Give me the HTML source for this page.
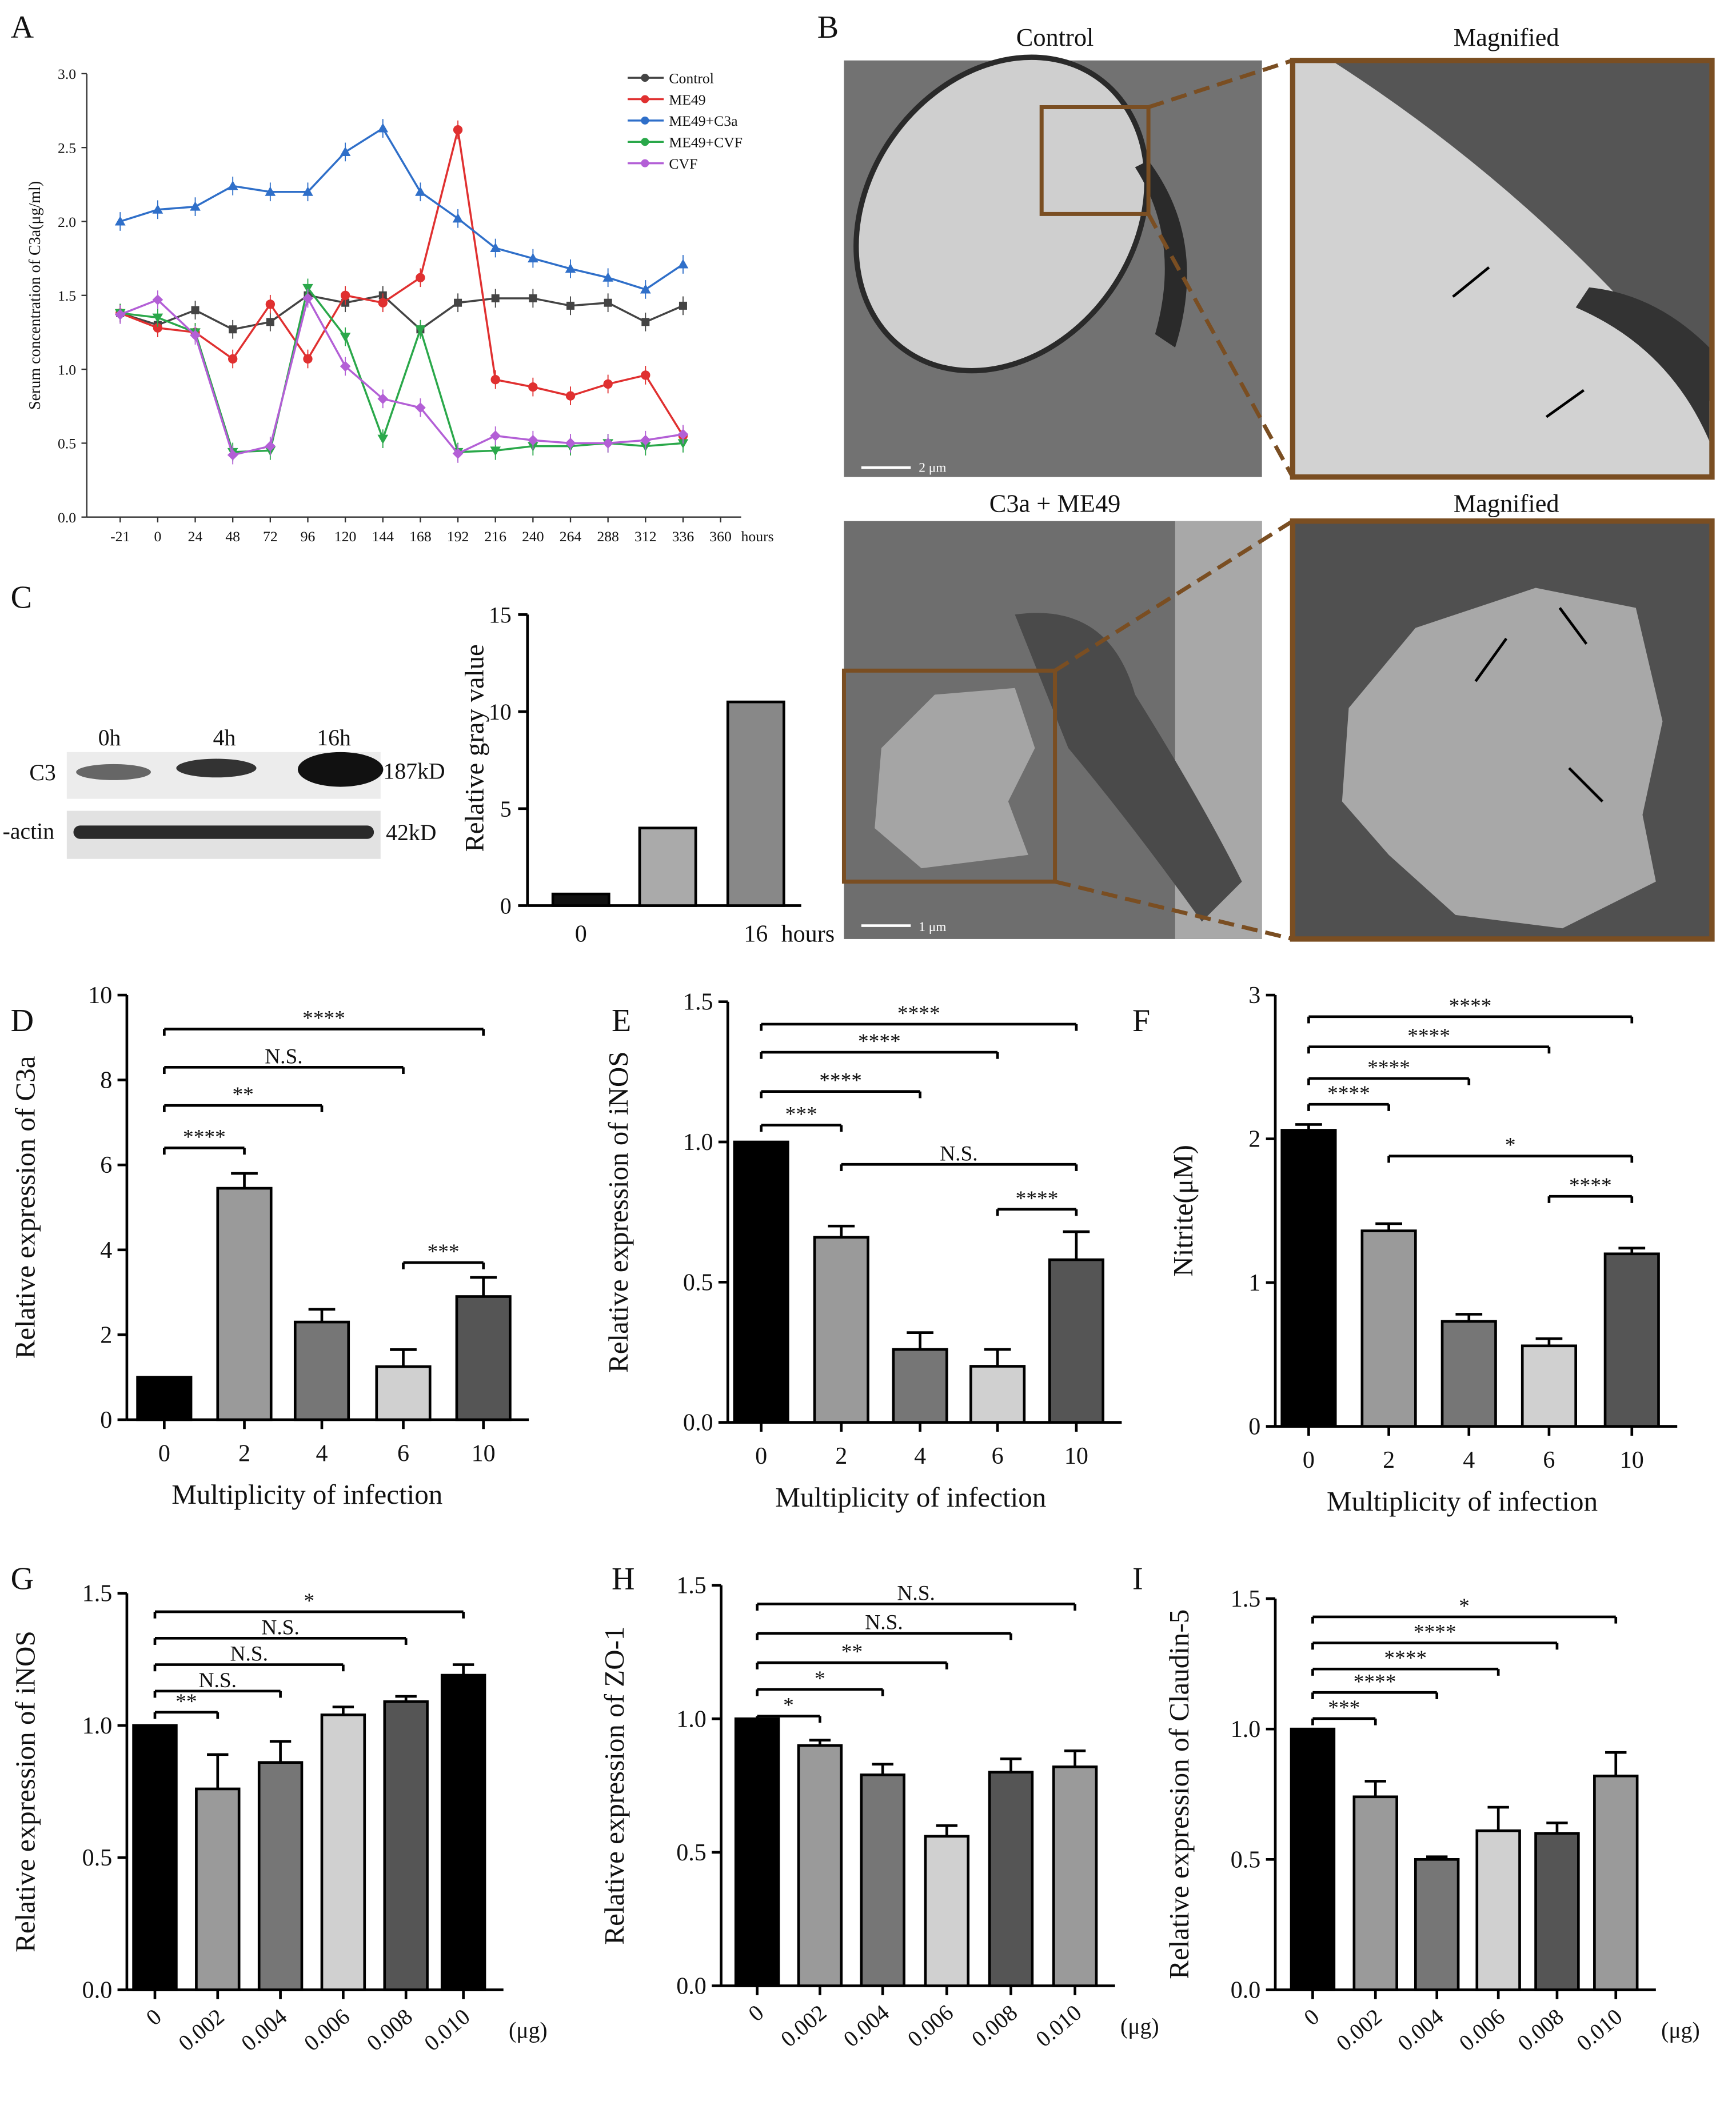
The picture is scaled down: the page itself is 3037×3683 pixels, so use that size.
<!DOCTYPE html>
<html><head><meta charset="utf-8">
<style>
html,body{margin:0;padding:0;background:#fff;}
svg{display:block;}
text{font-family:"Liberation Serif",serif;fill:#111;}
</style></head>
<body>
<svg id="fig" width="3037" height="3683" viewBox="0 0 1300 1576" xmlns="http://www.w3.org/2000/svg">
<rect width="1300" height="1576" fill="#fff"/>
<text x="8" y="28" font-size="24">A</text>
<text x="612" y="28" font-size="24">B</text>
<text x="8" y="455" font-size="24">C</text>
<text x="8" y="772" font-size="24">D</text>
<text x="458" y="772" font-size="24">E</text>
<text x="848" y="772" font-size="24">F</text>
<text x="8" y="1190" font-size="24">G</text>
<text x="458" y="1190" font-size="24">H</text>
<text x="848" y="1190" font-size="24">I</text>

<g>
<text x="790" y="34" font-size="19" text-anchor="middle">Control</text>
<text x="1128" y="34" font-size="19" text-anchor="middle">Magnified</text>
<text x="790" y="383" font-size="19" text-anchor="middle">C3a + ME49</text>
<text x="1128" y="383" font-size="19" text-anchor="middle">Magnified</text>
<rect x="632" y="45" width="313" height="312" fill="#727272"/>
<ellipse cx="750" cy="160" rx="100" ry="125" transform="rotate(35 750 160)" fill="#cfcfcf" stroke="#2a2a2a" stroke-width="4"/>
<path d="M860 120 Q905 180 880 260 L865 250 Q885 180 850 125 Z" fill="#2a2a2a"/>
<rect x="780" y="80" width="80" height="80" fill="none" stroke="#7a4e22" stroke-width="3"/>
<line x1="860" y1="80" x2="968" y2="45" stroke="#7a4e22" stroke-width="3" stroke-dasharray="12 6"/>
<line x1="860" y1="160" x2="968" y2="357" stroke="#7a4e22" stroke-width="3" stroke-dasharray="12 6"/>
<rect x="968" y="45" width="314" height="312" fill="#555" stroke="#7a4e22" stroke-width="4"/>
<path d="M970 47 L1000 47 Q1160 150 1280 300 L1280 355 L970 355 Z" fill="#d2d2d2"/>
<path d="M1180 230 Q1250 260 1280 330 L1280 260 Q1240 220 1190 215 Z" fill="#333"/>
<line x1="1088" y1="222" x2="1115" y2="200" stroke="#000" stroke-width="2"/>
<line x1="1158" y1="312" x2="1186" y2="292" stroke="#000" stroke-width="2"/>
<line x1="645" y1="350" x2="682" y2="350" stroke="#fff" stroke-width="2"/>
<text x="688" y="353" font-size="10" style="fill:#fff">2 μm</text>
<rect x="632" y="390" width="313" height="313" fill="#6e6e6e"/>
<rect x="880" y="390" width="65" height="313" fill="#a8a8a8"/>
<path d="M760 460 Q830 450 850 520 Q900 600 930 660 L900 690 Q850 620 800 560 Z" fill="#4a4a4a"/>
<path d="M660 560 L700 520 L760 515 L775 560 L755 600 L770 640 L690 650 L655 620 Z" fill="#a5a5a5"/>
<rect x="632" y="502" width="158" height="158" fill="none" stroke="#7a4e22" stroke-width="3"/>
<line x1="790" y1="502" x2="968" y2="390" stroke="#7a4e22" stroke-width="3" stroke-dasharray="12 6"/>
<line x1="790" y1="660" x2="968" y2="703" stroke="#7a4e22" stroke-width="3" stroke-dasharray="12 6"/>
<rect x="968" y="390" width="314" height="313" fill="#505050" stroke="#7a4e22" stroke-width="4"/>
<path d="M1010 530 L1060 470 L1150 440 L1225 455 L1245 540 L1230 610 L1240 660 L1170 695 L1090 685 L1040 640 L1005 600 Z" fill="#a8a8a8"/>
<line x1="1105" y1="510" x2="1128" y2="478" stroke="#000" stroke-width="2"/>
<line x1="1188" y1="482" x2="1168" y2="455" stroke="#000" stroke-width="2"/>
<line x1="1200" y1="600" x2="1175" y2="575" stroke="#000" stroke-width="2"/>
<line x1="645" y1="693" x2="682" y2="693" stroke="#fff" stroke-width="2"/>
<text x="688" y="697" font-size="10" style="fill:#fff">1 μm</text>
</g>

<g>
<text x="82" y="558" font-size="17" text-anchor="middle">0h</text>
<text x="168" y="558" font-size="17" text-anchor="middle">4h</text>
<text x="250" y="558" font-size="17" text-anchor="middle">16h</text>
<text x="22" y="584" font-size="17">C3</text>
<text x="2" y="628" font-size="17">-actin</text>
<rect x="50" y="563" width="235" height="35" fill="#ececec"/>
<ellipse cx="85" cy="578" rx="28" ry="6" fill="#666"/>
<ellipse cx="162" cy="575" rx="30" ry="7" fill="#333"/>
<ellipse cx="255" cy="576" rx="32" ry="13" fill="#111"/>
<rect x="50" y="607" width="235" height="36" fill="#e2e2e2"/>
<rect x="55" y="618" width="225" height="10" rx="5" fill="#2a2a2a"/>
<text x="287" y="583" font-size="17">187kD</text>
<text x="289" y="629" font-size="17">42kD</text>
</g>
<g id="chartA"></g>
<g id="chartC"></g>
<g id="charts"></g>
</svg>
<script>
const aTicks = ["-21","0","24","48","72","96","120","144","168","192","216","240","264","288","312","336","360"];
const aYTicks = [0,0.5,1.0,1.5,2.0,2.5,3.0];
const aNames = ["Control","ME49","ME49+C3a","ME49+CVF","CVF"];
const aControl = [1.38,1.3,1.4,1.27,1.32,1.5,1.45,1.5,1.27,1.45,1.48,1.48,1.43,1.45,1.32,1.43];
const aME49 = [1.38,1.28,1.25,1.07,1.44,1.07,1.5,1.45,1.62,2.62,0.93,0.88,0.82,0.9,0.96,0.55];
const aC3a = [2.0,2.08,2.1,2.24,2.2,2.2,2.47,2.63,2.2,2.02,1.82,1.75,1.68,1.62,1.54,1.71];
const aMECVF = [1.38,1.35,1.25,0.44,0.45,1.55,1.22,0.53,1.27,0.44,0.45,0.48,0.48,0.5,0.48,0.5];
const aCVF = [1.37,1.47,1.23,0.42,0.48,1.48,1.02,0.8,0.74,0.43,0.55,0.52,0.5,0.5,0.52,0.56];
const cCats = ["0","4","16"];
const cVals = [0.6,4.0,10.5];
const cYTicks = [0,5,10,15];
const dVals=[1,5.45,2.3,1.25,2.9]; const dErr=[0,0.35,0.3,0.4,0.45];
const eVals=[1,0.66,0.26,0.2,0.58]; const eErr=[0,0.04,0.06,0.06,0.1];
const fVals=[2.06,1.36,0.73,0.56,1.2]; const fErr=[0.04,0.05,0.05,0.05,0.04];
const gVals=[1,0.76,0.86,1.04,1.09,1.19]; const gErr=[0,0.13,0.08,0.03,0.02,0.04];
const hVals=[1,0.9,0.79,0.56,0.8,0.82]; const hErr=[0,0.02,0.04,0.04,0.05,0.06];
const iVals=[1,0.74,0.5,0.61,0.6,0.82]; const iErr=[0,0.06,0.01,0.09,0.04,0.09];
const moiCats=["0","2","4","6","10"];
const doseCats=["0","0.002","0.004","0.006","0.008","0.010"];
const dSig=[[0,4,"****",9.2],[0,3,"N.S.",8.3],[0,2,"**",7.4],[0,1,"****",6.4],[3,4,"***",3.7]];
const eSig=[[0,4,"****",1.42],[0,3,"****",1.32],[0,2,"****",1.18],[0,1,"***",1.06],[1,4,"N.S.",0.92],[3,4,"****",0.76]];
const fSig=[[0,4,"****",2.85],[0,3,"****",2.64],[0,2,"****",2.42],[0,1,"****",2.24],[1,4,"*",1.88],[3,4,"****",1.6]];
const gSig=[[0,5,"*",1.43],[0,4,"N.S.",1.33],[0,3,"N.S.",1.23],[0,2,"N.S.",1.13],[0,1,"**",1.05]];
const hSig=[[0,5,"N.S.",1.43],[0,4,"N.S.",1.32],[0,3,"**",1.21],[0,2,"*",1.11],[0,1,"*",1.01]];
const iSig=[[0,5,"*",1.43],[0,4,"****",1.33],[0,3,"****",1.23],[0,2,"****",1.14],[0,1,"***",1.04]];

const NS="http://www.w3.org/2000/svg";
function mk(parent,tag,attrs,txt){const e=document.createElementNS(NS,tag);for(const k in attrs)e.setAttribute(k,attrs[k]);if(txt!==undefined)e.textContent=txt;parent.appendChild(e);return e;}

(function(){
 const g=document.getElementById('chartA');
 const x=i=>90+i*28.1, y=v=>387-v*110.7;
 mk(g,'line',{x1:65,y1:387,x2:555,y2:387,stroke:'#333','stroke-width':1});
 mk(g,'line',{x1:65,y1:387,x2:65,y2:55,stroke:'#333','stroke-width':1});
 aYTicks.forEach(v=>{mk(g,'line',{x1:61,y1:y(v),x2:65,y2:y(v),stroke:'#333'});
  const t=mk(g,'text',{x:57,y:y(v)+4,'font-size':11,'text-anchor':'end'},v.toFixed(1));
  });
 aTicks.forEach((l,i)=>{mk(g,'line',{x1:x(i),y1:387,x2:x(i),y2:391,stroke:'#333'});
  const t=mk(g,'text',{x:x(i),y:405,'font-size':11,'text-anchor':'middle'},l);
  });
 const ht=mk(g,'text',{x:555,y:405,'font-size':11},'hours');
 
 const yt=mk(g,'text',{x:0,y:0,'font-size':12,'text-anchor':'middle',transform:'translate(30,221) rotate(-90)'},'Serum concentration of C3a(μg/ml)');
 
 const series=[[aControl,'#444','s'],[aME49,'#e03030','o'],[aC3a,'#2f6fc9','^'],[aMECVF,'#2aa84a','v'],[aCVF,'#b35fd6','d']];
 series.forEach((s,k)=>{
  const pts=s[0].map((v,i)=>x(i)+','+y(v)).join(' ');
  const pl=mk(g,'polyline',{points:pts,fill:'none',stroke:s[1],'stroke-width':1.5});
  
  
  s[0].forEach((v,i)=>{const cx=x(i),cy=y(v);
   mk(g,'line',{x1:cx,y1:cy-7,x2:cx,y2:cy+7,stroke:s[1],'stroke-width':0.8});
   let m;
   if(s[2]=='s')m=mk(g,'rect',{x:cx-3,y:cy-3,width:6,height:6,fill:s[1]});
   else if(s[2]=='o')m=mk(g,'circle',{cx:cx,cy:cy,r:3.5,fill:s[1]});
   else if(s[2]=='^')m=mk(g,'polygon',{points:`${cx},${cy-4} ${cx-4},${cy+3} ${cx+4},${cy+3}`,fill:s[1]});
   else if(s[2]=='v')m=mk(g,'polygon',{points:`${cx},${cy+4} ${cx-4},${cy-3} ${cx+4},${cy-3}`,fill:s[1]});
   else m=mk(g,'polygon',{points:`${cx},${cy-4} ${cx+4},${cy} ${cx},${cy+4} ${cx-4},${cy}`,fill:s[1]});
   });
  const ly=58+k*16;
  mk(g,'line',{x1:470,y1:ly,x2:497,y2:ly,stroke:s[1],'stroke-width':1.5});
  mk(g,'circle',{cx:483,cy:ly,r:3,fill:s[1]});
  const lt=mk(g,'text',{x:501,y:ly+4,'font-size':11},aNames[k]);
  
 });
})();

(function(){
 const g=document.getElementById('chartC');
 const y=v=>678-v*14.53; const xs=[435,500,566];
 mk(g,'line',{x1:395,y1:460,x2:395,y2:678,stroke:'#000','stroke-width':2});
 mk(g,'line',{x1:395,y1:678,x2:600,y2:678,stroke:'#000','stroke-width':2});
 cYTicks.forEach(v=>{mk(g,'line',{x1:388,y1:y(v),x2:395,y2:y(v),stroke:'#000','stroke-width':2});
  const t=mk(g,'text',{x:383,y:y(v)+6,'font-size':17,'text-anchor':'end'},v);
  });
 const fills=['#111','#aaa','#888'];
 cVals.forEach((v,i)=>{const b=mk(g,'rect',{x:xs[i]-21,y:y(v),width:42,height:678-y(v),fill:fills[i],stroke:'#000','stroke-width':2});
  });
 [0,2].forEach(i=>{const t=mk(g,'text',{x:xs[i],y:705,'font-size':18,'text-anchor':'middle'},cCats[i]);
  });
 const h=mk(g,'text',{x:585,y:705,'font-size':18},'hours');
 const yt=mk(g,'text',{x:0,y:0,'font-size':20,'text-anchor':'middle',transform:'translate(362,560) rotate(-90)'},'Relative gray value');
 
})();

function barPanel(o){
 const g=mk(document.getElementById('charts'),'g',{});
 
 
 const y=v=>o.y0-(o.y0-o.yTop)*v/o.yMax;
 const lastX=o.xs[o.xs.length-1]+o.bw/2+14;
 mk(g,'line',{x1:o.ax,y1:o.yTop,x2:o.ax,y2:o.y0,stroke:'#000','stroke-width':2});
 mk(g,'line',{x1:o.ax,y1:o.y0,x2:lastX,y2:o.y0,stroke:'#000','stroke-width':2});
 o.ticks.forEach(v=>{mk(g,'line',{x1:o.ax-7,y1:y(v),x2:o.ax,y2:y(v),stroke:'#000','stroke-width':2});
  const t=mk(g,'text',{x:o.ax-11,y:y(v)+6,'font-size':18,'text-anchor':'end'},o.fmt(v));
  });
 o.vals.forEach((v,i)=>{const cx=o.xs[i];
  mk(g,'line',{x1:cx,y1:o.y0,x2:cx,y2:o.y0+7,stroke:'#000','stroke-width':2});
  if(o.err[i]>0){mk(g,'line',{x1:cx,y1:y(v),x2:cx,y2:y(v+o.err[i]),stroke:'#000','stroke-width':2});
   mk(g,'line',{x1:cx-o.bw/4,y1:y(v+o.err[i]),x2:cx+o.bw/4,y2:y(v+o.err[i]),stroke:'#000','stroke-width':2});}
  const b=mk(g,'rect',{x:cx-o.bw/2,y:y(v),width:o.bw,height:o.y0-y(v),fill:o.fills[i],stroke:'#000','stroke-width':2});
  
  let t;
  if(o.rot) t=mk(g,'text',{x:0,y:0,'font-size':17,'text-anchor':'end',transform:`translate(${cx+6},${o.y0+22}) rotate(-40)`},o.cats[i]);
  else t=mk(g,'text',{x:cx,y:o.y0+31,'font-size':18,'text-anchor':'middle'},o.cats[i]);
  });
 o.sig.forEach(s=>{const x1=o.xs[s[0]],x2=o.xs[s[1]],yy=y(s[3]);
  const l=mk(g,'line',{x1:x1,y1:yy,x2:x2,y2:yy,stroke:'#000','stroke-width':2});
  
  mk(g,'line',{x1:x1,y1:yy,x2:x1,y2:yy+5,stroke:'#000','stroke-width':2});
  mk(g,'line',{x1:x2,y1:yy,x2:x2,y2:yy+5,stroke:'#000','stroke-width':2});
  const t=mk(g,'text',{x:(x1+x2)/2,y:yy-3,'font-size':16,'text-anchor':'middle'},s[2]);
  });
 const yt=mk(g,'text',{x:0,y:0,'font-size':21,'text-anchor':'middle',transform:`translate(${o.ytx},${(o.yTop+o.y0)/2}) rotate(-90)`},o.ytitle);
 
 if(o.xtitle){const xt=mk(g,'text',{x:o.xtx,y:o.y0+63,'font-size':21,'text-anchor':'middle'},o.xtitle);
  }
 if(o.rot){const u=mk(g,'text',{x:lastX+4,y:o.y0+36,'font-size':17},'(μg)');
  }
}
const f5=['#000','#9a9a9a','#767676','#d0d0d0','#555'];
barPanel({name:'panel-d',ax:95,yTop:745,y0:1063,yMax:10,ticks:[0,2,4,6,8,10],fmt:v=>v,xs:[123,183,241,302,362],bw:40,vals:dVals,err:dErr,cats:moiCats,fills:f5,sig:dSig,ytitle:'Relative expression of C3a',ytx:26,xtitle:'Multiplicity of infection',xtx:230});
barPanel({name:'panel-e',ax:545,yTop:750,y0:1065,yMax:1.5,ticks:[0,0.5,1,1.5],fmt:v=>v.toFixed(1),xs:[570,630,689,747,806],bw:40,vals:eVals,err:eErr,cats:moiCats,fills:f5,sig:eSig,ytitle:'Relative expression of iNOS',ytx:470,xtitle:'Multiplicity of infection',xtx:682});
barPanel({name:'panel-f',ax:955,yTop:745,y0:1068,yMax:3,ticks:[0,1,2,3],fmt:v=>v,xs:[980,1040,1100,1160,1222],bw:40,vals:fVals,err:fErr,cats:moiCats,fills:f5,sig:fSig,ytitle:'Nitrite(μM)',ytx:893,xtitle:'Multiplicity of infection',xtx:1095});
const fG=['#000','#9a9a9a','#767676','#d0d0d0','#555','#000'];
const fH=['#000','#9a9a9a','#767676','#d0d0d0','#555','#9a9a9a'];
barPanel({name:'panel-g',ax:95,yTop:1193,y0:1490,yMax:1.5,ticks:[0,0.5,1,1.5],fmt:v=>v.toFixed(1),xs:[116,163,210,257,304,347],bw:32,vals:gVals,err:gErr,cats:doseCats,fills:fG,sig:gSig,ytitle:'Relative expression of iNOS',ytx:26,rot:true});
barPanel({name:'panel-h',ax:540,yTop:1187,y0:1487,yMax:1.5,ticks:[0,0.5,1,1.5],fmt:v=>v.toFixed(1),xs:[567,614,661,709,757,805],bw:32,vals:hVals,err:hErr,cats:doseCats,fills:fH,sig:hSig,ytitle:'Relative expression of ZO-1',ytx:467,rot:true});
barPanel({name:'panel-i',ax:955,yTop:1197,y0:1490,yMax:1.5,ticks:[0,0.5,1,1.5],fmt:v=>v.toFixed(1),xs:[983,1030,1076,1122,1166,1210],bw:32,vals:iVals,err:iErr,cats:doseCats,fills:fH,sig:iSig,ytitle:'Relative expression of Claudin-5',ytx:890,rot:true});
</script>
</body></html>
